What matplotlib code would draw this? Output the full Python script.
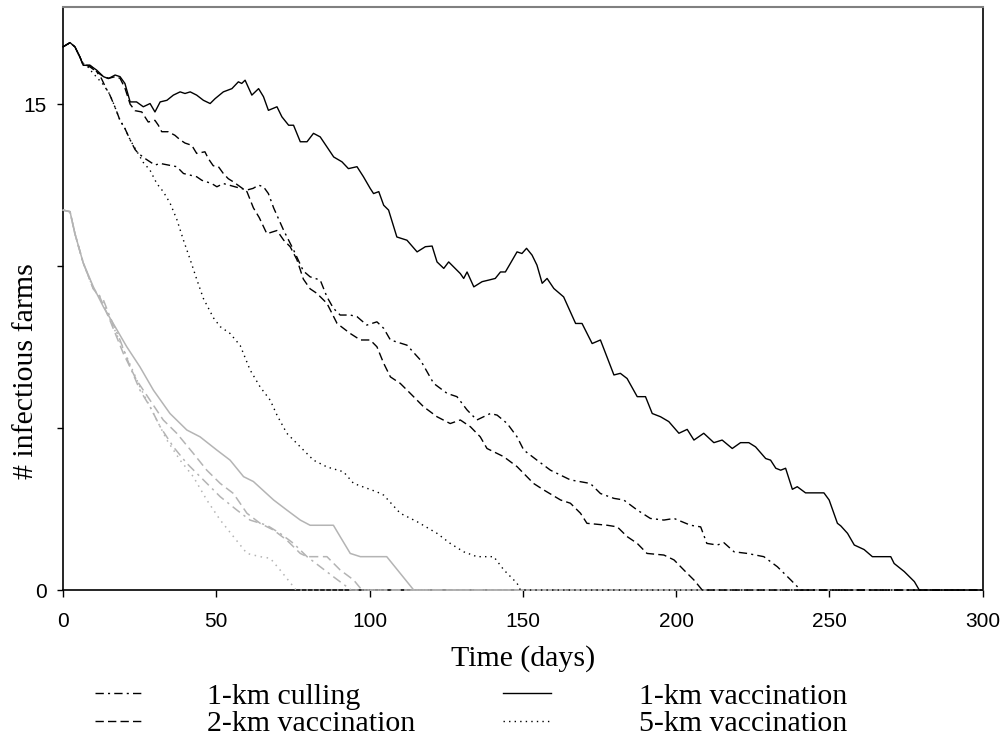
import numpy as np
import matplotlib
matplotlib.use('Agg')
from matplotlib import pyplot as plt

# (day, # infectious farms)
cull_1km = [(0, 16.77), (2.3, 16.9), (3.9, 16.77), (5.5, 16.46), (6.6, 16.25), (8.8, 16.15), (11, 16.0),
            (12.5, 15.8), (14, 15.5), (15.3, 15.28), (17, 14.9), (18.6, 14.5), (20.2, 14.25), (21.9, 13.9),
            (23.5, 13.6), (24.6, 13.48), (26.8, 13.32), (30, 13.12), (31.7, 13.17), (34.4, 13.12), (37.1, 13.07),
            (39.3, 12.86), (43.6, 12.76), (45.3, 12.65), (48.5, 12.55), (50.2, 12.45), (52.3, 12.55), (56.1, 12.45),
            (60, 12.35), (62, 12.4), (63.8, 12.5), (65.4, 12.45), (67, 12.24), (68.7, 11.8), (72, 11.1), (75.2, 10.5),
            (78.4, 9.85), (80.6, 9.67), (83.9, 9.57), (86.1, 9.05), (88.2, 8.7), (90.4, 8.49), (93.7, 8.49),
            (95.9, 8.44), (99.1, 8.18), (102.4, 8.28), (104.6, 8.08), (106.8, 7.72), (112.2, 7.56), (116.6, 7.1),
            (120.9, 6.38), (125.3, 6.07), (128.5, 5.97), (131.8, 5.56), (135, 5.25), (139.4, 5.45), (141.6, 5.4),
            (144.9, 5.14), (148.1, 4.73), (150.3, 4.32), (154.6, 4.01), (159, 3.7), (165.5, 3.4), (172, 3.29),
            (175.3, 2.98), (179.7, 2.83), (182.9, 2.78), (187.3, 2.47), (191.6, 2.21), (196, 2.16), (199.3, 2.21),
            (204.7, 2.0), (208, 1.95), (210, 1.44), (213.4, 1.39), (215.6, 1.46), (218.9, 1.18), (223.2, 1.13),
            (228.6, 1.03), (233, 0.72), (237.4, 0.31), (240.6, 0), (300, 0)]

vacc_1km = [(0, 16.77), (2.3, 16.9), (3.9, 16.77), (5.5, 16.46), (6.6, 16.2), (8.8, 16.2), (11, 16.05),
            (13.2, 15.85), (14.8, 15.79), (17, 15.9), (18.6, 15.85), (20.2, 15.64), (21.9, 15.07), (24, 15.07),
            (26.2, 14.92), (28.4, 15.02), (30, 14.76), (31.7, 15.07), (33.9, 15.12), (36, 15.28), (38.2, 15.38),
            (39.8, 15.33), (41.5, 15.38), (43.6, 15.28), (45.8, 15.12), (48, 15.02), (49.6, 15.17), (52.3, 15.38),
            (55.1, 15.48), (57.2, 15.69), (58.3, 15.64), (59.4, 15.74), (61.6, 15.28), (63.8, 15.48), (65.4, 15.23),
            (67, 14.81), (69.8, 14.92), (71.4, 14.61), (73.6, 14.35), (75.2, 14.35), (77.4, 13.84), (79.6, 13.84),
            (81.7, 14.1), (83.9, 13.99), (86.1, 13.68), (88.3, 13.37), (91, 13.22), (93.1, 13.01), (95.9, 13.07),
            (98, 12.76), (100.2, 12.4), (101.3, 12.24), (103, 12.3), (104.6, 11.88), (106.2, 11.73), (108.9, 10.9),
            (112.2, 10.8), (115.5, 10.44), (118.2, 10.6), (120.4, 10.62), (122, 10.13), (124.2, 9.93),
            (125.8, 10.13), (129.6, 9.77), (130.7, 9.62), (131.8, 9.82), (134, 9.36), (136.7, 9.52), (138.9, 9.57),
            (141, 9.62), (142.7, 9.82), (144.3, 9.82), (145.9, 10.08), (148.1, 10.44), (149.7, 10.39),
            (151.2, 10.55), (153, 10.34), (154.6, 10.03), (156.3, 9.47), (157.9, 9.62), (160.1, 9.31),
            (163.3, 9.05), (167.2, 8.23), (169.3, 8.23), (172.6, 7.61), (175.3, 7.72), (179.7, 6.64), (181.8, 6.69),
            (184, 6.53), (187.3, 5.97), (190, 5.97), (192.2, 5.45), (194.9, 5.35), (197.6, 5.2), (200.9, 4.84),
            (203.6, 4.96), (205.8, 4.63), (209, 4.84), (212.3, 4.55), (215, 4.63), (218.3, 4.37), (221, 4.55),
            (223.7, 4.55), (225.9, 4.42), (229.2, 4.06), (230.8, 4.01), (232.5, 3.76), (234.1, 3.7), (235.7, 3.76),
            (237.9, 3.11), (239.5, 3.19), (242.2, 3.0), (248.2, 3.0), (249.9, 2.78), (252.6, 2.06), (253.7, 1.98),
            (255.9, 1.75), (258.1, 1.39), (261.3, 1.25), (264, 1.03), (270, 1.03), (271.1, 0.82), (274.4, 0.57),
            (277.7, 0.26), (279.3, 0), (300, 0)]

vacc_2km = [(0, 16.77), (2.3, 16.9), (3.9, 16.77), (5.5, 16.46), (6.6, 16.2), (8.8, 16.2), (11, 16.0),
            (13.2, 15.85), (15, 15.8), (17, 15.85), (18.6, 15.8), (20.2, 15.5), (21.9, 15.0), (23.5, 14.8),
            (25.7, 14.76), (27.8, 14.45), (30, 14.5), (31.1, 14.35), (32.2, 14.15), (34.3, 14.15), (36.5, 14.04),
            (38.2, 13.9), (39.8, 13.8), (42, 13.73), (43.6, 13.48), (46.3, 13.53), (47.4, 13.32), (49, 13.1),
            (50.7, 13.07), (52.3, 12.86), (53.9, 12.7), (55.6, 12.6), (57.8, 12.45), (60, 12.3), (62.1, 11.8),
            (64, 11.5), (66.5, 11.0), (69.8, 11.1), (72, 10.8), (74.1, 10.6), (76.3, 10.2), (78.4, 9.6), (80.6, 9.3),
            (82.8, 9.16), (86.1, 8.85), (89.4, 8.23), (93.7, 7.92), (97, 7.72), (100.2, 7.72), (102.4, 7.51),
            (104.6, 7.0), (106.8, 6.58), (110, 6.38), (113.3, 6.07), (117.6, 5.66), (122, 5.35), (126.3, 5.14),
            (129.6, 5.25), (132.9, 5.04), (136.1, 4.73), (138.3, 4.37), (143.7, 4.12), (148.1, 3.81),
            (153.5, 3.29), (156.8, 3.09), (162.3, 2.78), (165.5, 2.68), (168.8, 2.37), (170.9, 2.06), (177.5, 2.0),
            (180.8, 1.95), (184, 1.65), (187.3, 1.44), (190.5, 1.13), (196, 1.08), (199.3, 0.93), (202.5, 0.62),
            (205.8, 0.31), (208.5, 0), (300, 0)]

vacc_5km = [(0, 16.77), (2.3, 16.9), (3.9, 16.77), (5.5, 16.46), (6.6, 16.25), (8.8, 16.1), (9.4, 16.0),
            (13.2, 15.6), (15.3, 15.3), (17, 14.9), (18.6, 14.5), (20.2, 14.25), (21.9, 13.9), (26.2, 13.2),
            (28.4, 12.96), (30.6, 12.55), (32.7, 12.3), (34.9, 11.95), (37.1, 11.45), (39.3, 10.8), (41.5, 10.2),
            (43.6, 9.6), (45.8, 9.0), (49.1, 8.4), (51.3, 8.13), (54.5, 7.92), (57.8, 7.55), (61, 6.8),
            (64.3, 6.27), (67.6, 5.86), (69.8, 5.4), (73, 4.84), (77.4, 4.42), (81.7, 4.01), (86.1, 3.8),
            (91.5, 3.65), (94.8, 3.29), (102.4, 3.03), (104.6, 2.93), (110, 2.37), (115.5, 2.11), (122, 1.75),
            (126.3, 1.44), (130.7, 1.18), (135, 1.03), (140.5, 1.03), (143.8, 0.62), (148.1, 0.21), (149.2, 0),
            (300, 0)]

# grey curves (second scenario set)
g_cull_1km = [(0, 11.73), (2.3, 11.68), (3.9, 11.0), (6.6, 10.1), (9.9, 9.3), (13.2, 8.95), (15.3, 8.44),
              (18.6, 7.72), (21.9, 6.89), (25.1, 6.17), (28.4, 5.66), (31.7, 5.04), (36, 4.42), (40.4, 3.91),
              (45.8, 3.4), (51.3, 2.88), (56.7, 2.47), (61, 2.16), (66.5, 2.0), (70.8, 1.75), (75.2, 1.44),
              (79.6, 1.03), (83.9, 0.72), (88.2, 0.41), (92.6, 0.1), (94, 0), (300, 0)]
g_vacc_1km = [(0, 11.73), (2.3, 11.68), (3.9, 11.0), (6.6, 10.1), (9.9, 9.36), (13.2, 8.74), (17, 8.13),
              (20.8, 7.51), (25.1, 6.89), (29.5, 6.17), (34.9, 5.45), (40.4, 4.94), (44.7, 4.73), (50.2, 4.32),
              (54.5, 4.01), (58.9, 3.5), (62.1, 3.35), (68.7, 2.78), (73, 2.47), (77.4, 2.16), (80.6, 2.0),
              (88.2, 2.0), (90.4, 1.65), (93.7, 1.13), (97, 1.03), (105.6, 1.03), (114.4, 0), (300, 0)]
g_vacc_2km = [(0, 11.73), (2.3, 11.68), (3.9, 11.0), (6.6, 10.1), (9.9, 9.3), (12, 9.05), (15.3, 8.33),
              (19.7, 7.3), (24, 6.48), (28.4, 5.86), (32.7, 5.25), (37.1, 4.84), (42.5, 4.22), (46.9, 3.7),
              (51.3, 3.29), (55.6, 2.98), (60, 2.37), (64.3, 2.06), (68.7, 1.85), (73, 1.54), (77.4, 1.13),
              (79.6, 1.03), (86.1, 1.03), (90.4, 0.62), (94.8, 0.31), (97.5, 0), (300, 0)]
g_vacc_5km = [(0, 11.73), (2.3, 11.68), (3.9, 11.0), (6.6, 10.1), (9.9, 9.3), (13.2, 8.85), (16.4, 8.13),
              (20.8, 7.2), (25.1, 6.27), (29.5, 5.45), (33.9, 4.63), (38.2, 4.01), (42.5, 3.5), (46.9, 2.78),
              (51.3, 2.16), (55.6, 1.65), (60, 1.13), (64.3, 1.03), (67.6, 0.98), (70.8, 0.62), (75.2, 0.1),
              (76, 0), (300, 0)]

labels = ['1-km culling', '2-km vaccination', '1-km vaccination', '5-km vaccination']
x_ticks = [0, 50, 100, 150, 200, 250, 300]
y_ticks = [0, 5, 10, 15]
y_ticklabels = ['0', '', '', '15']

DASHDOT = (0, (6, 3, 1.5, 3))
DASHED = (0, (6, 3))
DOTTED = (0, (1, 3))
GREY = '#b4b4b4'
SERIF = 'Liberation Serif'

fig = plt.figure(figsize=(10.03, 7.38), dpi=100)
ax = fig.add_axes([0.0628, 0.2005, 0.9170, 0.7900])

# grey set first, black set on top
for data, ls in [(g_cull_1km, DASHDOT), (g_vacc_2km, DASHED), (g_vacc_1km, '-'), (g_vacc_5km, DOTTED)]:
    d = np.array(data).T
    ax.plot(d[0], d[1], color=GREY, lw=1.1, ls=ls, zorder=3, clip_on=False)

handles = []
for data, ls in [(cull_1km, DASHDOT), (vacc_2km, DASHED), (vacc_1km, '-'), (vacc_5km, DOTTED)]:
    d = np.array(data).T
    h, = ax.plot(d[0], d[1], color='black', lw=1.0, ls=ls, zorder=4, clip_on=False)
    handles.append(h)

ax.set_xlim(0, 300)
ax.set_ylim(0, 18)
ax.set_xticks(x_ticks)
ax.set_yticks(y_ticks)
ax.set_yticklabels(y_ticklabels)
ax.tick_params(axis='x', direction='out', length=5, width=1, labelsize=15, pad=11)
ax.tick_params(axis='y', direction='out', length=4.5, width=1, labelsize=15, pad=7)
for lab in ax.get_xticklabels() + ax.get_yticklabels():
    lab.set_fontfamily('Liberation Sans')

for s in ['left', 'bottom', 'right']:
    ax.spines[s].set_color('black')
    ax.spines[s].set_linewidth(1.2)
ax.spines['top'].set_color('#808080')
ax.spines['top'].set_linewidth(1.5)

ax.set_xlabel('Time (days)', fontfamily=SERIF, fontsize=21.5, labelpad=10)
ax.set_ylabel('# infectious farms', fontfamily=SERIF, fontsize=21.5)
ax.yaxis.set_label_coords(-0.026, 0.376)

# two legend columns with different spacing, as in the original
leg_font = {'family': SERIF, 'size': 21.5}
leg1 = fig.legend(handles[:2], labels[:2], loc='upper left', bbox_to_anchor=(0.095, 0.075),
                  frameon=False, prop=leg_font, handlelength=1.6, handletextpad=2.15,
                  labelspacing=0.02, borderpad=0, borderaxespad=0)
leg2 = fig.legend(handles[2:], labels[2:], loc='upper left', bbox_to_anchor=(0.5015, 0.075),
                  frameon=False, prop=leg_font, handlelength=1.6, handletextpad=2.95,
                  labelspacing=0.02, borderpad=0, borderaxespad=0)

fig.savefig('out.png', dpi=100)
